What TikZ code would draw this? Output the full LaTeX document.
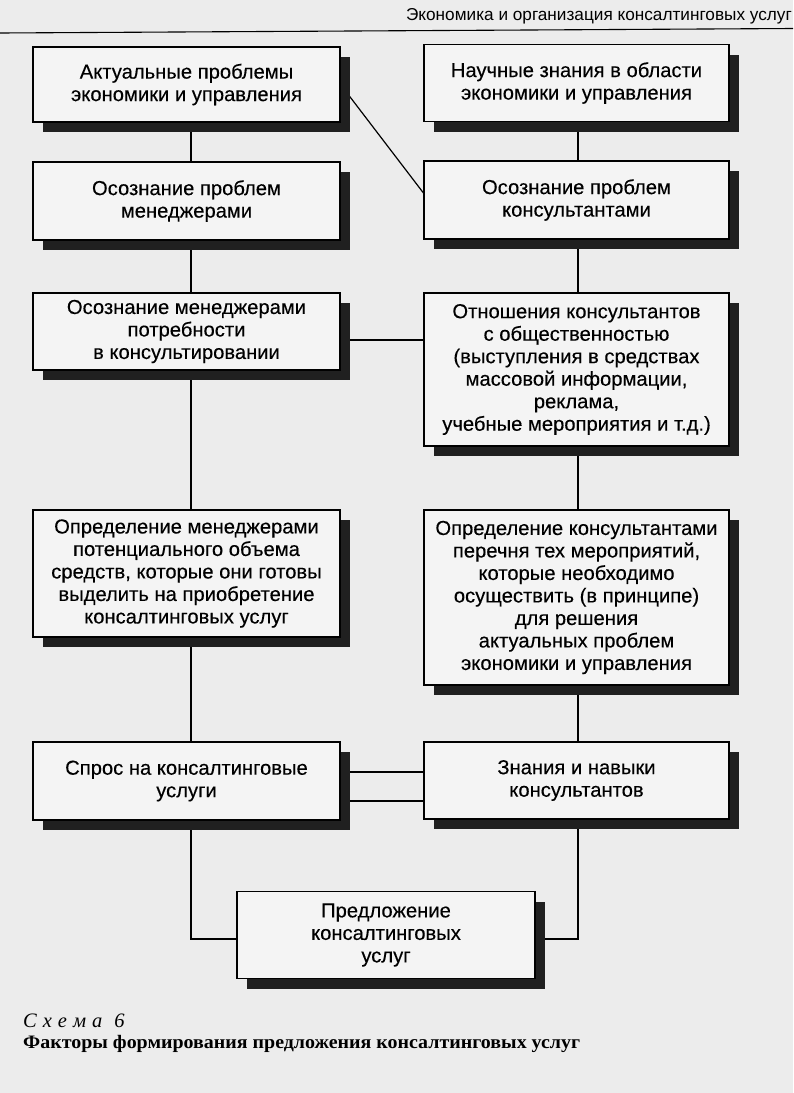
\documentclass[tikz,border=0pt]{standalone}
\usepackage{fontspec}
\setmainfont[FakeBold=0.25]{Liberation Sans}
\newfontfamily\hdrfont{Liberation Sans}
\newfontfamily\capserif{Liberation Serif}
\newfontfamily\capbold[FakeStretch=1.05]{Liberation Serif}
\usetikzlibrary{shadows,backgrounds}
\definecolor{pagebg}{RGB}{236,236,236}
\definecolor{boxbg}{RGB}{244,244,244}
\definecolor{shade}{RGB}{32,32,32}
\tikzset{
  box/.style={draw=black, line width=1.1pt, fill=boxbg, inner sep=0pt, align=center,
    font=\fontsize{20.2}{22.5}\selectfont, text=black,
    drop shadow={shadow xshift=10pt, shadow yshift=-10pt, fill=shade, opacity=1}},
  lbox/.style={box, minimum width=307pt},
  rbox/.style={box, minimum width=305pt},
  link/.style={draw=black, line width=1.2pt},
}
\begin{document}
\begin{tikzpicture}[x=1pt,y=-1pt]
\useasboundingbox (0,0) rectangle (793,1093);
% header
\node[anchor=base east, inner sep=0pt, font=\hdrfont\fontsize{17.2}{20}\selectfont] (hdr) at (792,20) {Экономика и организация консалтинговых услуг};
\coordinate (rl) at (0,33);
\coordinate (rr) at (793,28.5);
\draw[line width=1.1pt] (rl) -- (rr);
% left column
\node[lbox, minimum height=75pt] (L1) at (186.5,84.5) {Актуальные проблемы\\экономики и управления};
\node[lbox, minimum height=78pt] (L2) at (186.5,201) {Осознание проблем\\менеджерами};
\node[lbox, minimum height=77pt] (L3) at (186.5,331.5) {Осознание менеджерами\\потребности\\в консультировании};
\node[lbox, minimum height=127pt] (L4) at (186.5,573.5) {Определение менеджерами\\потенциального объема\\средств, которые они готовы\\выделить на приобретение\\консалтинговых услуг};
\node[lbox, minimum height=78pt] (L5) at (186.5,781) {Спрос на консалтинговые\\услуги};
% right column
\node[rbox, minimum height=77pt] (R1) at (576.5,83) {Научные знания в области\\экономики и управления};
\node[rbox, minimum height=78pt] (R2) at (576.5,200) {Осознание проблем\\консультантами};
\node[rbox, minimum height=153pt] (R3) at (576.5,369.5) {Отношения консультантов\\с общественностью\\(выступления в средствах\\массовой информации,\\реклама,\\учебные мероприятия и т.д.)};
\node[rbox, minimum height=175pt] (R4) at (576.5,597.5) {Определение консультантами\\перечня тех мероприятий,\\которые необходимо\\осуществить (в принципе)\\для решения\\актуальных проблем\\экономики и управления};
\node[rbox, minimum height=77pt] (R5) at (576.5,780.5) {Знания и навыки\\консультантов};
% bottom
\node[box, minimum width=298pt, minimum height=87pt] (B) at (386,935) {Предложение\\консалтинговых\\услуг};
% caption
\node[anchor=base west, inner sep=0pt, font=\capserif\itshape\fontsize{20.5}{24}\selectfont] (sch) at (23,1027) {С\hspace{6pt}х\hspace{6pt}е\hspace{6pt}м\hspace{6pt}а\hspace{12pt}6};
\node[anchor=base west, inner sep=0pt, font=\capbold\bfseries\fontsize{19}{22}\selectfont] (cap) at (23,1048) {Факторы формирования предложения консалтинговых услуг};
% connectors and page behind the boxes
\begin{pgfonlayer}{background}
\fill[pagebg] (0,0) rectangle (793,1093);
\coordinate (cl) at (191,0);
\coordinate (cr) at (578,0);
\draw[link] (L1.south -| cl) -- (L2.north -| cl);
\draw[link] (L2.south -| cl) -- (L3.north -| cl);
\draw[link] (L3.south -| cl) -- (L4.north -| cl);
\draw[link] (L4.south -| cl) -- (L5.north -| cl);
\draw[link] (L5.south -| cl) |- ([yshift=-4pt]B.west);
\draw[link] (R1.south -| cr) -- (R2.north -| cr);
\draw[link] (R2.south -| cr) -- (R3.north -| cr);
\draw[link] (R3.south -| cr) -- (R4.north -| cr);
\draw[link] (R4.south -| cr) -- (R5.north -| cr);
\draw[link] (R5.south -| cr) |- ([yshift=-4pt]B.east);
\draw[link] (L1.east) -- ([yshift=7pt]R2.west);
\draw[link] ([yshift=-8.5pt]L3.east) -- ([yshift=-8.5pt]L3.east -| R3.west);
\draw[link] ([yshift=9pt]L5.east) -- ([yshift=9pt]L5.east -| R5.west);
\draw[link] ([yshift=-20pt]L5.east) -- ([yshift=-20pt]L5.east -| R5.west);
\end{pgfonlayer}
\end{tikzpicture}
\end{document}
